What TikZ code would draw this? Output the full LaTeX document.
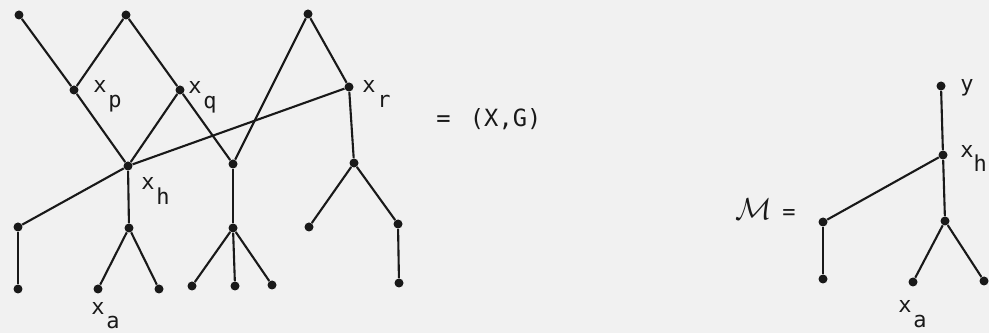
\documentclass[tikz,border=0pt]{standalone}
\usepackage{fontspec}
\setmainfont{DejaVu Sans Mono}
\definecolor{paper}{RGB}{241,241,241}
\definecolor{ink}{RGB}{25,25,25}
\newcommand{\sublbl}[2]{#1\hspace{1pt}\raisebox{-8.5pt}{#2}}
\begin{document}
\begin{tikzpicture}[
  x=0.02cm, y=-0.02cm,
  dot/.style  = {circle, fill=ink, inner sep=0pt, minimum size=0.18cm},
  edge/.style = {draw=ink, line width=1.2pt},
  lbl/.style  = {anchor=base west, inner sep=0pt, text=ink,
                 font=\fontsize{12.5}{14}\selectfont}
]
  % Fundo e margens
  \fill[paper] (0,0) rectangle (989,333);
  \useasboundingbox (0,0) rectangle (989,333);

  % Grafo (X,G): vertices
  \node[dot] (tl) at (19,15)   {};
  \node[dot] (tm) at (126,15)  {};
  \node[dot] (tr) at (308,14)  {};
  \node[dot] (xp) at (74,90)   {};
  \node[dot] (xq) at (180,90)  {};
  \node[dot] (xr) at (349,87)  {};
  \node[dot] (xh) at (128,166) {};
  \node[dot] (m)  at (233,164) {};
  \node[dot] (r)  at (354,163) {};
  \node[dot] (l1) at (18,227)  {};
  \node[dot] (l2) at (18,289)  {};
  \node[dot] (h1) at (129,228) {};
  \node[dot] (h2) at (98,289)  {};
  \node[dot] (h3) at (159,289) {};
  \node[dot] (m1) at (233,228) {};
  \node[dot] (m2) at (192,286) {};
  \node[dot] (m3) at (235,286) {};
  \node[dot] (m4) at (272,285) {};
  \node[dot] (r1) at (309,227) {};
  \node[dot] (r2) at (398,224) {};
  \node[dot] (r3) at (399,283) {};

  % Grafo (X,G): arestas
  \draw[edge] (tl) -- (xp);
  \draw[edge] (tm) -- (xp);
  \draw[edge] (tm) -- (xq);
  \draw[edge] (xp) -- (xh);
  \draw[edge] (xq) -- (xh);
  \draw[edge] (xq) -- (m);
  \draw[edge] (tr) -- (m);
  \draw[edge] (tr) -- (xr);
  \draw[edge] (xr) -- (xh);
  \draw[edge] (xh) -- (l1);
  \draw[edge] (l1) -- (l2);
  \draw[edge] (xh) -- (h1);
  \draw[edge] (h1) -- (h2);
  \draw[edge] (h1) -- (h3);
  \draw[edge] (m)  -- (m1);
  \draw[edge] (m1) -- (m2);
  \draw[edge] (m1) -- (m3);
  \draw[edge] (m1) -- (m4);
  \draw[edge] (xr) -- (r);
  \draw[edge] (r)  -- (r1);
  \draw[edge] (r)  -- (r2);
  \draw[edge] (r2) -- (r3);

  % Rotulos
  \node[lbl] (lxp) at (93,93)   {\sublbl{x}{p}};
  \node[lbl] (lxq) at (188,94)  {\sublbl{x}{q}};
  \node[lbl] (lxr) at (362,93)  {\sublbl{x}{r}};
  \node[lbl] (lxh) at (141,190) {\sublbl{x}{h}};
  \node[lbl] (lxa) at (91,315)  {x\hspace{1pt}\raisebox{-7.5pt}{a}};
  \node[lbl, font=\fontsize{13.5}{15}\selectfont] (lxg) at (436,127)
        {=\hspace{11pt}(X,G)};

  % Subgrafo M: vertices
  \node[dot] (y)   at (941,86)  {};
  \node[dot] (hh)  at (943,155) {};
  \node[dot] (ll1) at (823,222) {};
  \node[dot] (ll2) at (823,279) {};
  \node[dot] (hh1) at (945,221) {};
  \node[dot] (hh2) at (913,282) {};
  \node[dot] (hh3) at (984,281) {};

  % Subgrafo M: arestas
  \draw[edge] (y)   -- (hh);
  \draw[edge] (hh)  -- (ll1);
  \draw[edge] (ll1) -- (ll2);
  \draw[edge] (hh)  -- (hh1);
  \draw[edge] (hh1) -- (hh2);
  \draw[edge] (hh1) -- (hh3);

  % Rotulos de M
  \node[lbl] (lm) at (735,220)
        {{\fontsize{16}{18}\selectfont$\mathcal{M}$}\hspace{6pt}=};
  \node[lbl] (ly)   at (960,92)  {y};
  \node[lbl] (lhh)  at (960,158) {x\raisebox{-7.5pt}{h}};
  \node[lbl] (lxa2) at (898,313) {\sublbl{x}{a}};
\end{tikzpicture}
\end{document}
